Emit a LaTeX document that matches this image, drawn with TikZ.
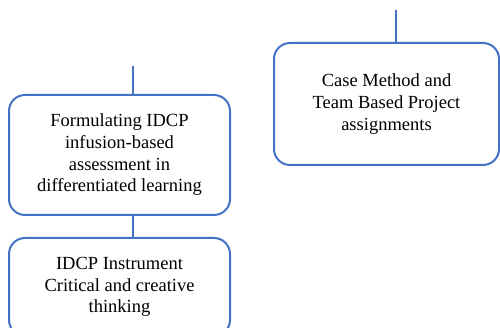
\documentclass[tikz,border=0pt]{standalone}
\usepackage{fontspec}
\setmainfont{Liberation Serif}
\begin{document}
\begin{tikzpicture}[x=1pt,y=1pt,
  box/.style={draw=boxblue, line width=2pt, rounded corners=16pt, inner sep=0pt,
    align=center, font=\fontsize{18.5}{21.7}\selectfont,
    execute at begin node={\rule{0pt}{20pt}}},
  link/.style={draw=boxblue, line width=2pt}]
\definecolor{boxblue}{HTML}{4472C4}
\useasboundingbox (0,0) rectangle (500,328);
% left column
\node[box, minimum width=221pt, minimum height=120pt] (form) at (119.5,173)
  {Formulating IDCP\\infusion-based\\assessment in\\differentiated learning};
\node[box, minimum width=221pt, minimum height=98pt] (instr) at (119.5,41)
  {IDCP Instrument\\Critical and creative\\thinking};
% right column
\node[box, minimum width=225pt, minimum height=122pt] (case) at (386.5,224)
  {Case Method and\\Team Based Project\\assignments};
% connectors
\coordinate (ftop) at (133,262);
\coordinate (ctop) at (396,318);
\draw[link] (ftop) -- (ftop |- form.north);
\draw[link] (ftop |- form.south) -- (ftop |- instr.north);
\draw[link] (ctop) -- (ctop |- case.north);
\end{tikzpicture}
\end{document}
